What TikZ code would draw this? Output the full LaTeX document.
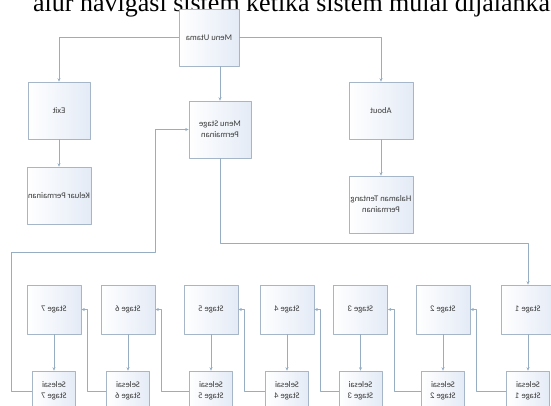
\documentclass[tikz,border=0pt]{standalone}
\usepackage{fontspec}
\setmainfont{Liberation Serif}
\newfontfamily\kotakfont{Carlito}
\usepackage{graphicx}
\usetikzlibrary{arrows.meta}
\definecolor{garisbiru}{RGB}{150,174,196}
\definecolor{tepibiru}{RGB}{165,182,200}
\definecolor{isibiru}{RGB}{228,235,246}
\definecolor{teksabu}{RGB}{60,60,60}
\newcommand{\cermin}[1]{\reflectbox{#1}}
\begin{document}
\begin{tikzpicture}[x=1pt,y=-1pt,>={Stealth[length=3.5pt,width=3pt]},line join=round,
		garis/.style={draw=garisbiru,line width=0.6pt},
		kotak/.style={draw=tepibiru,line width=0.6pt,left color=white,right color=isibiru,
			inner sep=1pt,align=center,text=teksabu,font=\kotakfont\fontsize{8.6}{11}\selectfont},
		besar/.style={kotak,minimum width=62pt,minimum height=57pt},
		tahap/.style={kotak,minimum width=54pt,minimum height=49pt},
		selesai/.style={kotak,minimum width=43pt,minimum height=40pt}]
	\useasboundingbox (0,0) rectangle (551,405);
	\clip (0,0) rectangle (551,405);
	\fill[white] (0,0) rectangle (551,405);
	% judul yang terpotong
	\node[anchor=base west,inner sep=0pt,font=\fontsize{26}{28}\selectfont] (judul) at (33,11)
		{alur navigasi sistem ketika sistem mulai dijalankan};
	% menu
	\node[besar,minimum width=60pt] (utama) at (209,37.5) {\cermin{Menu Utama}};
	\node[besar] (exit) at (59,110.5) {\cermin{Exit}};
	\node[besar] (keluar) at (59,195.5) {\cermin{Keluar Permainan}};
	\node[besar] (mstage) at (220,129.5) {\cermin{\begin{tabular}{@{}c@{}}Menu Stage\\Permainan\end{tabular}}};
	\node[besar,minimum width=64pt] (about) at (381,110.5) {\cermin{About}};
	\node[besar,minimum width=64pt] (halaman) at (381,204.5) {\cermin{\begin{tabular}{@{}c@{}}Halaman Tentang\\Permainan\end{tabular}}};
	% stage dan selesai
	\foreach \i/\x in {1/528,2/443,3/360.5,4/287,5/211,6/128,7/54}{
		\node[tahap] (stg\i) at (\x,309.5) {\cermin{Stage \i}};
		\node[selesai] (sel\i) at (\x,391) {\cermin{\begin{tabular}{@{}c@{}}Selesai\\Stage \i\end{tabular}}};
		\draw[garis,->] (stg\i.south) -- (sel\i.north);
	}
	\foreach \i/\j in {1/2,2/3,3/4,4/5,5/6,6/7}{
		\draw[garis,->] (sel\i.west) -| ([xshift=6]stg\j.east) -- (stg\j.east);
	}
	% panah menu
	\draw[garis,->] (utama.west) -| (exit.north);
	\draw[garis,->] (utama.east) -| (about.north);
	\draw[garis,->] (mstage.north |- utama.south) -- (mstage.north);
	\draw[garis,->] (exit.south) -- (keluar.north);
	\draw[garis,->] (about.south) -- (halaman.north);
	\draw[garis,->] (mstage.south) -- ++(0,85) -| (stg1.north);
	\coordinate (balikA) at (11,252);
	\coordinate (balikB) at (155,252);
	\draw[garis,->] (sel7.west) -| (balikA) -- (balikB) |- (mstage.west);
\end{tikzpicture}
\end{document}
